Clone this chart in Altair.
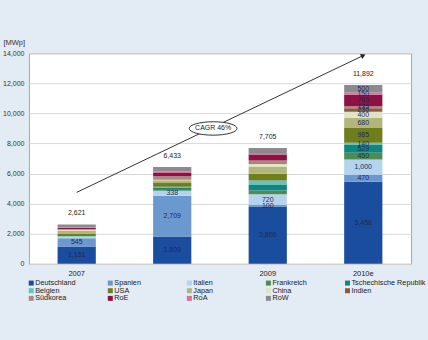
import altair as alt
import pandas as pd

years = ["2007", "2008", "2009", "2010e"]
totals = [2621, 6433, 7705, 11892]
series = ["Deutschland", "Spanien", "Italien", "Frankreich", "Tschechische Republik",
          "Belgien", "USA", "Japan", "China", "Indien",
          "Südkorea", "RoE", "RoA", "RoW"]
colors = ["#1a4d9e", "#6a98cf", "#b3d3ee", "#4e8a52", "#11857e",
          "#62c4bd", "#6f7d1c", "#b2b67a", "#dfe3c7", "#8f5a3a",
          "#a88c84", "#8c1145", "#df6d98", "#8b8b8f"]
deutschland = [1151, 1809, 3806, 5458]
spanien = [545, 2709, 100, 470]
italien = [100, 338, 720, 1000]
frankreich = [20, 120, 240, 450]
tschechien = [5, 60, 375, 529]
belgien = [20, 90, 290, 140]
usa = [180, 247, 454, 985]
japan = [200, 180, 450, 680]
china = [20, 60, 210, 400]
indien = [20, 30, 100, 230]
suedkorea = [60, 180, 120, 135]
roe = [60, 220, 400, 765]
roa = [30, 100, 110, 150]
row_ = [210, 290, 330, 500]
labeled_counts = [2, 3, 3, 14]
y_ticks = [0, 2000, 4000, 6000, 8000, 10000, 12000, 14000]
cagr_line_years = ["2007", "2010e"]
cagr_line_values = [4750, 13850]
cagr_label = "CAGR 46%"
cagr_label_year = "2008"
cagr_label_value = 9000

all_values = [deutschland, spanien, italien, frankreich, tschechien, belgien, usa,
              japan, china, indien, suedkorea, roe, roa, row_]

rows = []
for si, s in enumerate(series):
    for yi, y in enumerate(years):
        rows.append({"year": y, "series": s, "idx": si, "value": all_values[si][yi],
                     "show": si < labeled_counts[yi]})
df = pd.DataFrame(rows)
tot_df = pd.DataFrame({"year": years, "total": totals})
line_df = pd.DataFrame({"year": cagr_line_years, "v": cagr_line_values})
lab_df = pd.DataFrame({"year": [cagr_label_year], "v": [cagr_label_value], "t": [cagr_label]})
leg_df = pd.DataFrame({"series": series, "idx": list(range(len(series)))})
leg_df["col"] = leg_df["idx"] % 5
leg_df["row"] = leg_df["idx"] // 5

color_scale = alt.Scale(domain=series, range=colors)
x_scale = alt.Scale(domain=years, paddingInner=0.6, paddingOuter=0.3)
y_scale = alt.Scale(domain=[0, 14000], nice=False)

x_axis = alt.Axis(title=None, labelAngle=0, ticks=False, domain=False, grid=False,
                  labelExpr="datum.value == '2008' ? '' : datum.value",
                  labelFontSize=7.5, labelColor="#222", labelPadding=6)
y_axis = alt.Axis(values=y_ticks, format=",d", title="[MWp]",
                  titleAngle=0, titleX=-26, titleY=-7, titleAlign="left",
                  titleBaseline="bottom", titleFontWeight="normal", titleFontSize=7.5,
                  titleColor="#333", labelFontSize=7, labelColor="#333", ticks=False,
                  domain=False, grid=True, gridColor="#d8d8d8", labelPadding=5,
                  labelOverlap=False, labelFlush=False)

xo = alt.X("year:N", sort=years, scale=x_scale, axis=x_axis)


def yo(field, **kw):
    return alt.Y(field, scale=y_scale, axis=y_axis, **kw)


bars = alt.Chart(df).mark_bar().encode(
    x=xo,
    y=yo("value:Q", stack="zero"),
    color=alt.Color("series:N", scale=color_scale, legend=None),
    order=alt.Order("idx:Q", sort="ascending"),
)

seg = alt.Chart(df).transform_stack(
    stack="value", groupby=["year"], sort=[alt.SortField("idx", order="ascending")],
    as_=["v0", "v1"]
).transform_calculate(mid="(datum.v0 + datum.v1) / 2").transform_filter(
    "datum.show"
).mark_text(fontSize=7, color="#1d2b57").encode(
    x=xo, y=yo("mid:Q"), text=alt.Text("value:Q", format=",")
)

tots = alt.Chart(tot_df).mark_text(fontSize=7, color="#222", dy=-11).encode(
    x=xo, y=yo("total:Q"), text=alt.Text("total:Q", format=",")
)

line = alt.Chart(line_df).mark_line(color="#333", strokeWidth=1).encode(x=xo, y=yo("v:Q"))
head = alt.Chart(line_df.tail(1)).mark_point(shape="triangle-up", filled=True, color="#222",
                                              size=30, angle=64, opacity=1).encode(
    x=xo, y=yo("v:Q")
)
ellipse = alt.Chart(lab_df).mark_point(
    shape="M-1,0A1,0.28,0,1,1,1,0A1,0.28,0,1,1,-1,0Z", size=2304, filled=False,
    fill="white", fillOpacity=1, stroke="#333", strokeWidth=1, opacity=1, xOffset=41
).encode(x=xo, y=yo("v:Q"))
ell_text = alt.Chart(lab_df).mark_text(fontSize=7, color="#222", xOffset=41).encode(
    x=xo, y=yo("v:Q"), text="t:N"
)

main = alt.layer(bars, seg, tots, line, head, ellipse, ell_text).properties(
    width=383, height=211,
    view=alt.ViewBackground(fill="white", stroke="#a8a8a8")
)

leg_base = alt.Chart(leg_df).encode(
    x=alt.X("col:Q", scale=alt.Scale(domain=[0, 383 / 79.25], nice=False, zero=False), axis=None),
    y=alt.Y("row:O", axis=None),
)
leg_sq = leg_base.mark_square(size=25, xOffset=2.3, yOffset=-2.5, opacity=1).encode(
    color=alt.Color("series:N", scale=color_scale, legend=None)
)
leg_tx = leg_base.mark_text(align="left", dx=6.3, yOffset=-2.5, fontSize=7.3,
                            color="#222").encode(text="series:N")
legend = alt.layer(leg_sq, leg_tx).properties(
    width=383, height=23,
    view=alt.ViewBackground(fill="transparent", stroke="transparent")
)

chart = alt.vconcat(main, legend, spacing=0).properties(
    background="#e3ebf4",
    padding={"left": 2, "top": 37, "right": 1, "bottom": 40},
).configure(font="Liberation Sans").configure_concat(spacing=0)

chart.save("out.html", embed_options={"renderer": "svg", "actions": False})
